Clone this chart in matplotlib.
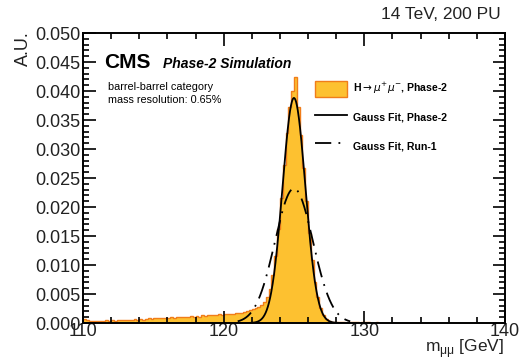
import numpy as np
import matplotlib
matplotlib.use("Agg")
import matplotlib.pyplot as plt
from matplotlib.patches import Patch
from matplotlib.lines import Line2D

plt.rcParams['font.family'] = ['Liberation Sans', 'DejaVu Sans']

# histogram: 0.2 GeV bins from 110 to 140
bin_lo, bin_hi, bin_w = 110.0, 140.0, 0.2
tail_left = [
    0.0007, 0.0006, 0.0004, 0.0003, 0.0004, 0.0003, 0.0004, 0.0004, 0.0005, 0.0004,
    0.0005, 0.0004, 0.0005, 0.0006, 0.0005, 0.0006, 0.0005, 0.0006, 0.0007, 0.0006,
    0.0007, 0.0006, 0.0007, 0.0008, 0.0007, 0.0008, 0.0009, 0.0008, 0.0009, 0.0008,
    0.0009, 0.0010, 0.0009, 0.0010, 0.0011, 0.0010, 0.0011, 0.0010, 0.0012, 0.0011,
    0.0012, 0.0011, 0.0013, 0.0012, 0.0013, 0.0014, 0.0013, 0.0014, 0.0015, 0.0014,
    0.0015, 0.0016, 0.0015, 0.0016, 0.0017,
]
peak_region = [
    0.0017, 0.0018, 0.0019, 0.0020, 0.0022, 0.0024, 0.0026, 0.0028, 0.0031, 0.0036,
    0.0044, 0.0058, 0.0082, 0.0116, 0.0162, 0.0215, 0.0272, 0.0328, 0.0372, 0.0400,
    0.0425, 0.0372, 0.0325, 0.0268, 0.0210, 0.0155, 0.0108, 0.0070, 0.0044, 0.0026,
    0.0014, 0.0007, 0.0004, 0.0002, 0.00015,
]
tail_right = [
    0.0001, 0.00012, 0.0001, 0.00008, 0.0001, 0.0001, 0.00009, 0.0001, 0.00008, 0.0001,
    0.00009, 0.0001, 0.00008, 0.00007, 0.0001, 0.00008, 0.00007, 0.00008, 0.00006, 0.00007,
    0.00008, 0.00006, 0.00007, 0.00006, 0.00005, 0.00007, 0.00006, 0.00005, 0.00006, 0.00005,
    0.00006, 0.00005, 0.00004, 0.00005, 0.00004, 0.00005, 0.00004, 0.00004, 0.00005, 0.00004,
    0.00004, 0.00003, 0.00004, 0.00003, 0.00004, 0.00003, 0.00003, 0.00004, 0.00003, 0.00003,
    0.00003, 0.00003, 0.00002, 0.00003, 0.00002, 0.00003, 0.00002, 0.00002, 0.00003, 0.00002,
]
hist_vals = np.array(tail_left + peak_region + tail_right)
edges = np.linspace(bin_lo, bin_hi, len(hist_vals) + 1)

# gauss fit parameters (mean, sigma, amplitude)
fit_phase2 = (125.0, 0.81, 0.0388)
fit_run1 = (125.0, 1.35, 0.0232)
fit_range = (121.0, 129.0)

fig = plt.figure(figsize=(5.2, 3.62), dpi=100)
ax = fig.add_axes([0.1596, 0.1077, 0.8114, 0.8011])

ax.stairs(hist_vals, edges, fill=True, color='#fdc130', lw=0)
ax.stairs(hist_vals, edges, color='#f07d1a', lw=1.0)

xf = np.linspace(*fit_range, 400)
for (mu, sig, amp), ls in [(fit_phase2, '-'), (fit_run1, (0, (9, 4, 1, 4)))]:
    ax.plot(xf, amp * np.exp(-0.5 * ((xf - mu) / sig) ** 2), color='black', lw=1.3, ls=ls)

ax.set_xlim(110, 140)
ax.set_ylim(0, 0.05)
ax.set_xticks([110, 120, 130, 140])
ax.set_xticks(np.arange(110, 141, 2), minor=True)
ax.set_yticks(np.arange(0, 0.0501, 0.005))
ax.set_yticks(np.arange(0, 0.0501, 0.001), minor=True)
ax.yaxis.set_major_formatter(matplotlib.ticker.FormatStrFormatter('%.3f'))
ax.tick_params(which='both', direction='in', top=True, right=True, width=1.2)
ax.tick_params(which='major', length=9, labelsize=13, pad=2, labelcolor='#222222')
ax.tick_params(axis='x', which='major', pad=0)
ax.tick_params(which='minor', length=4.5)
for s in ax.spines.values():
    s.set_linewidth(1.4)

fig.text(0.963, 0.94, '14 TeV, 200 PU', ha='right', va='bottom', fontsize=12.5, color='#222222')
fig.text(0.028, 0.915, 'A.U.', rotation=90, ha='left', va='top', fontsize=13, color='#222222')
fig.text(0.97, 0.006, r'm$_{\mathregular{μμ}}$ [GeV]', ha='right', va='bottom', fontsize=12.5,
         color='#222222')

ax.text(0.05, 0.90, 'CMS', transform=ax.transAxes, fontsize=15, fontweight='bold', va='center')
ax.text(0.19, 0.893, 'Phase-2 Simulation', transform=ax.transAxes, fontsize=10,
        fontweight='bold', style='italic', va='center')
ax.text(0.06, 0.815, 'barrel-barrel category', transform=ax.transAxes, fontsize=7.8, va='center')
ax.text(0.06, 0.77, 'mass resolution: 0.65%', transform=ax.transAxes, fontsize=7.8, va='center')

handles = [
    Patch(facecolor='#fdc130', edgecolor='#f07d1a', lw=1),
    Line2D([], [], color='black', lw=1.3),
    Line2D([], [], color='black', lw=1.3, ls=(0, (9, 4, 1, 4))),
]
labels = [r'H$\rightarrow\mu^{+}\mu^{-}$, Phase-2', 'Gauss Fit, Phase-2', 'Gauss Fit, Run-1']
ax.legend(handles, labels, loc='upper left', bbox_to_anchor=(0.54, 0.85), frameon=False,
          prop={'size': 7.6, 'weight': 'bold'}, handlelength=3.0, handleheight=2.0,
          labelspacing=1.15, handletextpad=0.6, borderaxespad=0)

fig.savefig('out.png', dpi=100)
